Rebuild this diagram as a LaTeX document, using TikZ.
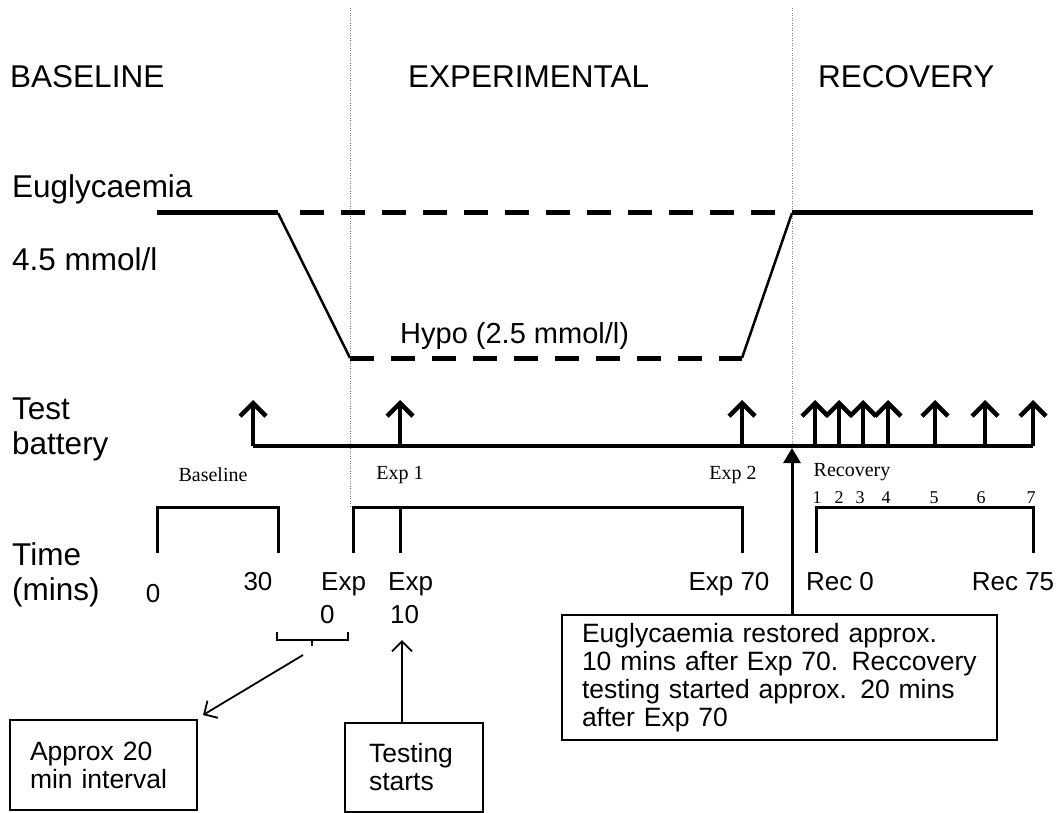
\documentclass[tikz,border=0pt]{standalone}
\usepackage{fontspec}
\setmainfont{Liberation Sans}
\newfontfamily\smallserif{Liberation Serif}
\usetikzlibrary{arrows.meta}
\tikzset{
  big/.style={font=\fontsize{31.5}{36}\selectfont, inner sep=0pt},
  hypo/.style={font=\fontsize{29}{32}\selectfont, inner sep=0pt},
  tlab/.style={font=\fontsize{26}{30}\selectfont, inner sep=0pt},
  slab/.style={font=\smallserif\fontsize{20}{24}\selectfont, inner sep=0pt},
  nlab/.style={font=\smallserif\fontsize{18}{22}\selectfont, inner sep=0pt},
  boxtext/.style={draw, line width=1.5pt, font=\fontsize{26.5}{28}\selectfont, align=left},
  glucose/.style={line width=5pt},
  slope/.style={line width=2.5pt},
  hypodash/.style={line width=5pt, dash pattern=on 24pt off 17pt},
  divider/.style={gray, line width=1pt, dash pattern=on 1pt off 1.5pt},
  bracket/.style={line width=3pt},
  testarrow/.style={line width=3.5pt, -{Straight Barb[length=13pt,width=26pt,line width=4.5pt]}},
  thinarrow/.style={line width=1.8pt, -{Straight Barb[length=10pt,width=20pt]}},
  restarrow/.style={line width=3pt, -{Triangle[length=15pt,width=17pt]}},
}
\begin{document}
\begin{tikzpicture}[x=1pt,y=-1pt]
\useasboundingbox[fill=white] (0,0) rectangle (1057,813);

% dividers
\coordinate (d1top) at (350,8);
\coordinate (d1bot) at (350,507);
\coordinate (d2top) at (792,8);
\coordinate (d2bot) at (792,446);
\draw[divider] (d1top) -- (d1bot);
\draw[divider] (d2top) -- (d2bot);

% titles
\node[big, anchor=base west] (tbase) at (10,88) {BASELINE};
\node[big, anchor=base west] (texp) at (408,88) {EXPERIMENTAL};
\node[big, anchor=base west] (trec) at (818,88) {RECOVERY};

% left labels
\node[big, anchor=base west] (eug) at (12,197) {Euglycaemia};
\node[big, anchor=base west] (mmol) at (12,270) {4.5 mmol/l};
\node[big, anchor=base west] (test) at (12,419) {Test};
\node[big, anchor=base west] (batt) at (12,454) {battery};
\node[big, anchor=base west] (time) at (12,565) {Time};
\node[big, anchor=base west] (mins) at (12,600) {(mins)};

% glucose profile
\coordinate (g0) at (157,213);
\coordinate (g1) at (278,213);
\coordinate (g2) at (350,358);
\coordinate (g3) at (742,358);
\coordinate (g4) at (792,213);
\coordinate (g5) at (1033,213);
\coordinate (e0) at (300,213);
\draw[glucose] (g0) -- (g1);
\draw[slope] (g1) -- (g2);
\draw[hypodash] (g2) -- (g3);
\draw[slope] (g3) -- (g4);
\draw[glucose] (g4) -- (g5);
\draw[hypodash] (e0) -- (g4);
\node[hypo, anchor=base west] (hypo) at (400,343) {Hypo (2.5 mmol/l)};

% test battery
\coordinate (tb0) at (253,446);
\coordinate (tb1) at (1033,446);
\draw[line width=3.5pt] (tb0) -- (tb1);
\foreach \x in {253,400,742,815,839,863,888,935,985,1033}
  \draw[testarrow] (\x,446) -- (\x,400);

\node[slab] (lbase) at (213,475) {Baseline};
\node[slab] (lexp1) at (400,475) {Exp 1};
\node[slab] (lexp2) at (733,475) {Exp 2};
\node[slab] (lrec) at (852,472) {Recovery};
\foreach \x/\n in {817/1,839/2,860/3,886/4,934/5,981/6,1031/7}
  \node[nlab] (r\n) at (\x,498) {\n};

% time brackets
\draw[bracket] (157,553) -- (157,507) -- (278,507) -- (278,553);
\draw[bracket] (353,553) -- (353,507) -- (742,507) -- (742,553);
\draw[bracket] (400,507) -- (400,553);
\draw[bracket] (816,553) -- (816,507) -- (1033,507) -- (1033,553);

% time labels
\node[tlab, anchor=base] (t0) at (153,602) {0};
\node[tlab, anchor=base] (t30) at (258,590) {30};
\node[tlab, anchor=base west] (te0a) at (321,590) {Exp};
\node[tlab, anchor=base west] (te0b) at (320,623) {0};
\node[tlab, anchor=base west] (te10a) at (388,590) {Exp};
\node[tlab, anchor=base west] (te10b) at (390,623) {10};
\node[tlab, anchor=base] (te70) at (729,590) {Exp 70};
\node[tlab, anchor=base] (tr0) at (840,590) {Rec 0};
\node[tlab, anchor=base] (tr75) at (1013,590) {Rec 75};

% brace under Exp 0
\draw[line width=1.8pt] (277,632) -- (277,640) -- (348,640) -- (348,632);
\draw[line width=1.8pt] (312,640) -- (312,646);

% boxes
\node[boxtext, minimum width=187pt, minimum height=90pt, text width=147pt] (bint) at (103.5,765) {Approx 20\\min interval};
\node[boxtext, minimum width=138pt, minimum height=89pt, text width=90pt] (btest) at (414,767.5) {Testing\\starts};
\node[boxtext, minimum width=435pt, minimum height=125pt, text width=395pt] (brest) at (779.5,677.5) {Euglycaemia restored approx.\\10 mins after Exp 70. Reccovery\\testing started approx. 20 mins\\after Exp 70};

% connectors
\coordinate (bracetip) at (303,655);
\coordinate (intend) at (203,715);
\draw[thinarrow] (bracetip) -- (intend);
\coordinate (t10tip) at (402,640);
\draw[thinarrow] (btest.north -| t10tip) -- (t10tip);
\draw[restarrow] (brest.north -| d2bot) -- ([yshift=-2pt]d2bot);
\end{tikzpicture}
\end{document}
